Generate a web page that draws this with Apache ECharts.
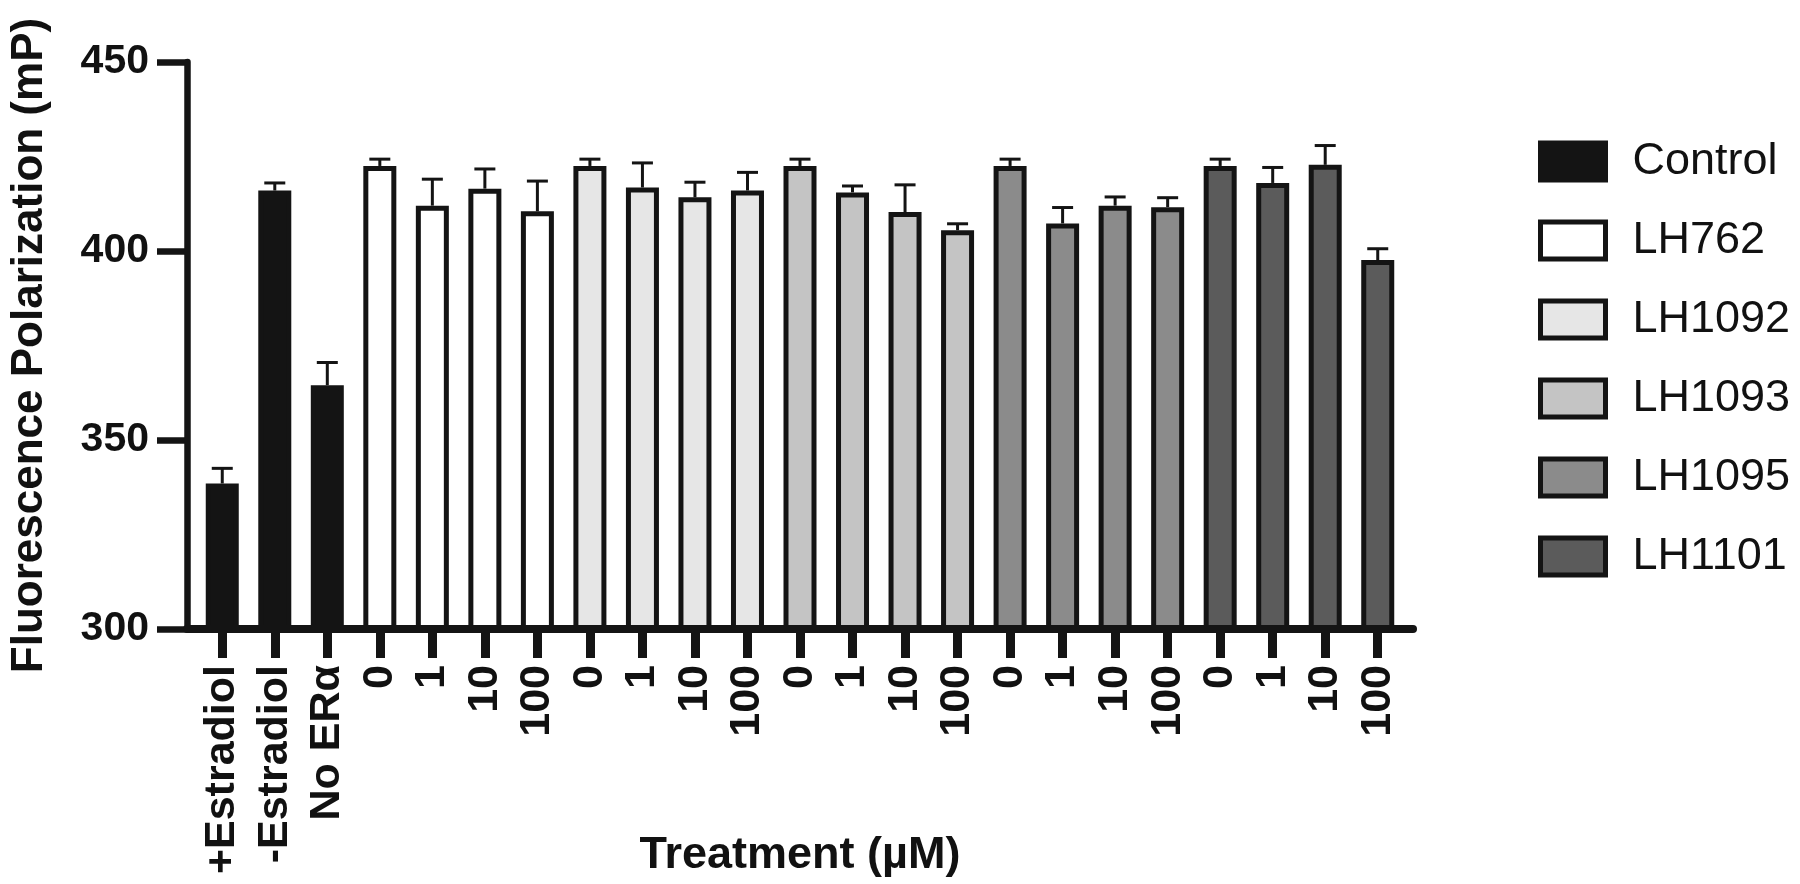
<!DOCTYPE html>
<html>
<head>
<meta charset="utf-8">
<script src="https://cdn.jsdelivr.net/npm/echarts@6/dist/echarts.min.js"></script>
<style>html,body{margin:0;padding:0;background:#fff;}#c{width:1800px;height:884px;}</style>
</head>
<body>
<div id="c"></div>
<script>
// ---- data ----
const categories = ['+Estradiol','-Estradiol','No ERα','0','1','10','100','0','1','10','100','0','1','10','100','0','1','10','100','0','1','10','100'];
const groupNames = ['Control','LH762','LH1092','LH1093','LH1095','LH1101'];
const controlMean = [338.5, 416.0, 364.5];
const controlErr  = [4.0, 2.0, 6.0];
const lh762Mean  = [422.5, 412.0, 416.5, 410.5];
const lh762Err   = [1.8, 7.0, 5.2, 8.0];
const lh1092Mean = [422.5, 416.8, 414.2, 416.0];
const lh1092Err  = [1.8, 6.5, 4.0, 4.8];
const lh1093Mean = [422.5, 415.5, 410.3, 405.5];
const lh1093Err  = [1.8, 1.7, 7.2, 1.7];
const lh1095Mean = [422.5, 407.3, 412.0, 411.6];
const lh1095Err  = [1.8, 4.2, 2.3, 2.5];
const lh1101Mean = [422.5, 418.0, 422.8, 397.6];
const lh1101Err  = [1.8, 4.1, 5.1, 3.0];
const yTicks = [300, 350, 400, 450];

// ---- build ----
const means = [controlMean, lh762Mean, lh1092Mean, lh1093Mean, lh1095Mean, lh1101Mean];
const errs  = [controlErr, lh762Err, lh1092Err, lh1093Err, lh1095Err, lh1101Err];
const fills = ['#141414', '#ffffff', '#e6e6e6', '#c4c4c4', '#8b8b8b', '#5b5b5b'];
const edge = '#141414';
const FONT = '"Liberation Sans", Arial, Helvetica, sans-serif';

let start = 0;
const barSeries = [];
const errData = [];
means.forEach((m, g) => {
  const d = categories.map(() => null);
  m.forEach((v, k) => { d[start + k] = v; errData.push([start + k, v, errs[g][k]]); });
  start += m.length;
  barSeries.push({
    name: groupNames[g], type: 'bar', data: d, barWidth: 33, barGap: '-100%',
    itemStyle: { color: fills[g], borderColor: edge, borderWidth: 5 },
    z: 2
  });
});

const errSeries = {
  name: 'err', type: 'custom', data: errData, z: 3,
  encode: { x: 0, y: 1 },
  renderItem: function (params, api) {
    const i = api.value(0), m = api.value(1), e = api.value(2);
    const p0 = api.coord([i, m]);
    const p1 = api.coord([i, m + e]);
    const hw = 10.5;
    return {
      type: 'group',
      children: [
        { type: 'line', shape: { x1: p0[0], y1: p0[1], x2: p1[0], y2: p1[1] }, style: { stroke: edge, lineWidth: 3 } },
        { type: 'line', shape: { x1: p1[0] - hw, y1: p1[1], x2: p1[0] + hw, y2: p1[1] }, style: { stroke: edge, lineWidth: 3 } }
      ]
    };
  }
};

const chart = echarts.init(document.getElementById('c'), null, { renderer: 'canvas' });
chart.setOption({
  animation: false,
  backgroundColor: '#ffffff',
  grid: [
    { left: 196, right: 396, top: 62, bottom: 255, containLabel: false, outerBoundsMode: 'none' },
    { left: 187, right: 387, top: 62, bottom: 255, containLabel: false, outerBoundsMode: 'none' }
  ],
  legend: {
    data: groupNames, orient: 'vertical', left: 1538, top: 139, padding: 0,
    itemWidth: 65, itemHeight: 37, itemGap: 34, icon: 'rect',
    itemStyle: { borderWidth: 5, borderColor: edge },
    textStyle: { fontFamily: FONT, fontSize: 45, color: '#111', padding: [0, 0, 0, 22] }
  },
  xAxis: [
    {
      type: 'category', data: categories, gridIndex: 0,
      name: 'Treatment (µM)', nameLocation: 'middle', nameGap: 204, nameMoveOverlap: false,
      nameTextStyle: { fontFamily: FONT, fontSize: 45, fontWeight: 'bold', color: '#111' },
      axisLine: { show: false },
      axisTick: { show: true, length: 29, alignWithLabel: true, lineStyle: { color: edge, width: 9 } },
      axisLabel: { interval: 0, rotate: 90, margin: 36, hideOverlap: false, fontFamily: FONT, fontSize: 43, fontWeight: 'bold', color: '#111' },
      splitLine: { show: false }
    },
    {
      type: 'value', gridIndex: 1, min: 0, max: 1, z: 10,
      axisLine: { show: true, lineStyle: { color: edge, width: 8 } },
      axisTick: { show: false }, axisLabel: { show: false }, splitLine: { show: false }
    }
  ],
  yAxis: [
    {
      type: 'value', gridIndex: 0, min: yTicks[0], max: yTicks[yTicks.length - 1], interval: 50, offset: 9,
      name: 'Fluorescence Polarization (mP)', nameLocation: 'middle', nameGap: 135, nameMoveOverlap: false,
      nameTextStyle: { fontFamily: FONT, fontSize: 44, fontWeight: 'bold', color: '#111' },
      axisLine: { show: true, lineStyle: { color: edge, width: 6.5 } },
      axisTick: { show: true, length: 30, lineStyle: { color: edge, width: 6.5 } },
      axisLabel: { margin: 38, fontFamily: FONT, fontSize: 41, fontWeight: 'bold', color: '#111' },
      splitLine: { show: false }
    },
    { type: 'value', gridIndex: 1, min: 300, max: 450, show: false }
  ],
  series: barSeries.concat([errSeries])
});
</script>
</body>
</html>
